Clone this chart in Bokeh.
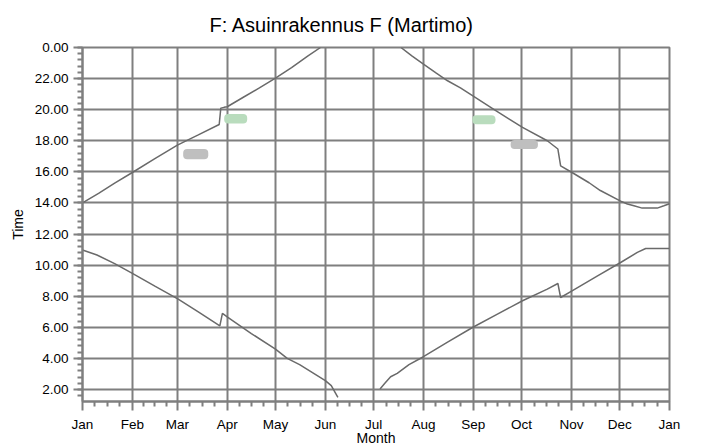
from bokeh.plotting import figure
from bokeh.models import FixedTicker, Range1d
from bokeh.embed import file_html
from bokeh.resources import INLINE

# ---------------- data ----------------
month_labels = ["Jan", "Feb", "Mar", "Apr", "May", "Jun", "Jul",
                "Aug", "Sep", "Oct", "Nov", "Dec", "Jan"]
month_start_days = [0, 31, 59, 90, 120, 151, 181, 212, 243, 273, 304, 334, 365]

y_tick_values = [2, 4, 6, 8, 10, 12, 14, 16, 18, 20, 22, 24]
y_tick_labels = ["2.00", "4.00", "6.00", "8.00", "10.00", "12.00", "14.00",
                 "16.00", "18.00", "20.00", "22.00", "0.00"]

# upper curve (evening), spring part and autumn part (hours, 24 = midnight)
sunset_spring_day = [0, 10, 20, 31, 45, 59, 72, 85, 86, 88, 90, 100, 110, 120, 130, 140, 148]
sunset_spring_time = [14.0, 14.62, 15.27, 15.96, 16.85, 17.72, 18.38, 19.05, 20.1, 20.15,
                      20.19, 20.8, 21.4, 22.03, 22.7, 23.45, 24.0]
sunset_autumn_day = [198, 205, 212, 220, 227, 235, 242.5, 256, 273.6, 289, 295.6, 297.3,
                     304.4, 315, 322, 334.6, 338.8, 342.9, 348, 357.4, 361.5, 365]
sunset_autumn_time = [24.0, 23.45, 22.93, 22.35, 21.86, 21.4, 20.9, 20.0, 18.86, 18.0, 17.47,
                      16.39, 15.96, 15.3, 14.8, 14.12, 13.93, 13.82, 13.67, 13.67, 13.82, 13.95]

# lower curve (morning)
sunrise_spring_day = [0, 9, 20, 31, 45, 59.5, 72, 85.4, 87, 90.4, 105, 120, 127.3, 135, 151,
                      154.7, 158.8]
sunrise_spring_time = [10.97, 10.65, 10.1, 9.47, 8.65, 7.82, 7.0, 6.1, 6.9, 6.64, 5.6, 4.6,
                       4.0, 3.6, 2.57, 2.25, 1.49]
sunrise_autumn_day = [185, 188, 191.6, 195.7, 203, 212, 227, 242.5, 258, 273.6, 289, 295.6,
                      297.3, 304.4, 320, 334.6, 345, 350.2, 365]
sunrise_autumn_time = [2.03, 2.4, 2.82, 3.04, 3.6, 4.11, 5.05, 5.99, 6.85, 7.71, 8.46, 8.82,
                       7.92, 8.35, 9.3, 10.17, 10.82, 11.07, 11.07]

# small marks
blob_left = [62.6, 88.1, 242.4, 266.2]
blob_right = [78.2, 102.4, 256.8, 283.2]
blob_bottom = [16.82, 19.11, 19.07, 17.47]
blob_top = [17.47, 19.72, 19.65, 18.05]
blob_color = ["#bfbfbf", "#b9dcbd", "#b9dcbd", "#bfbfbf"]

# ---------------- styling ----------------
GRID = "#7f7f7f"
LINE = "#6a6a6a"
FONT = "Liberation Sans"

p = figure(frame_width=587, frame_height=354,
           x_range=Range1d(0, 365), y_range=Range1d(1.23, 24),
           output_backend="svg", toolbar_location=None,
           min_border_left=82, min_border_right=16,
           min_border_top=39, min_border_bottom=45,
           background_fill_color="white", border_fill_color="white",
           styles={"margin-bottom": "-8px"})

p.title.text = "F: Asuinrakennus F (Martimo)"
p.title.align = "left"
p.title.offset = 127
p.title.text_font = FONT
p.title.text_font_size = "20px"
p.title.text_font_style = "normal"
p.title.text_color = "black"
p.title.standoff = 23

minor_x = []
for i in range(len(month_start_days) - 1):
    a, b = month_start_days[i], month_start_days[i + 1]
    for k in (1, 2, 3):
        minor_x.append(a + (b - a) * k / 4.0)
minor_y = [round(2 + 0.4 * k, 2) for k in range(-2, 56)]

p.xaxis.ticker = FixedTicker(ticks=month_start_days, minor_ticks=minor_x)
p.xaxis.major_label_overrides = {d: lab for d, lab in zip(month_start_days, month_labels)}
p.yaxis.ticker = FixedTicker(ticks=y_tick_values, minor_ticks=minor_y)
p.yaxis.major_label_overrides = {float(v): lab for v, lab in zip(y_tick_values, y_tick_labels)}

p.xaxis.axis_label = "Month"
p.yaxis.axis_label = "Time"
for ax in (p.xaxis, p.yaxis):
    ax.axis_line_color = GRID
    ax.axis_line_width = 2
    ax.major_tick_line_color = GRID
    ax.major_tick_line_width = 2
    ax.minor_tick_line_color = GRID
    ax.minor_tick_line_width = 2
    ax.major_tick_in = 0
    ax.major_tick_out = 9
    ax.minor_tick_in = 0
    ax.minor_tick_out = 5
    ax.major_label_text_font = FONT
    ax.major_label_text_font_size = "13.5px"
    ax.major_label_text_color = "black"
    ax.axis_label_text_font = FONT
    ax.axis_label_text_font_size = "14px"
    ax.axis_label_text_font_style = "normal"
    ax.axis_label_text_color = "black"
p.xaxis.major_label_standoff = 6
p.xaxis.axis_label_standoff = -5
p.yaxis.major_label_standoff = 5
p.yaxis.axis_label_standoff = 6

p.xgrid.ticker = FixedTicker(ticks=month_start_days)
p.ygrid.ticker = FixedTicker(ticks=y_tick_values)
for g in (p.xgrid, p.ygrid):
    g.grid_line_color = GRID
    g.grid_line_width = 2
p.outline_line_color = GRID
p.outline_line_width = 2

p.quad(left=blob_left, right=blob_right, bottom=blob_bottom, top=blob_top,
       fill_color=blob_color, line_color=None, border_radius=4)

for xs, ys in ((sunset_spring_day, sunset_spring_time),
               (sunset_autumn_day, sunset_autumn_time),
               (sunrise_spring_day, sunrise_spring_time),
               (sunrise_autumn_day, sunrise_autumn_time)):
    p.line(xs, ys, line_color=LINE, line_width=1.5)

open("out.html", "w").write(file_html(p, INLINE))
